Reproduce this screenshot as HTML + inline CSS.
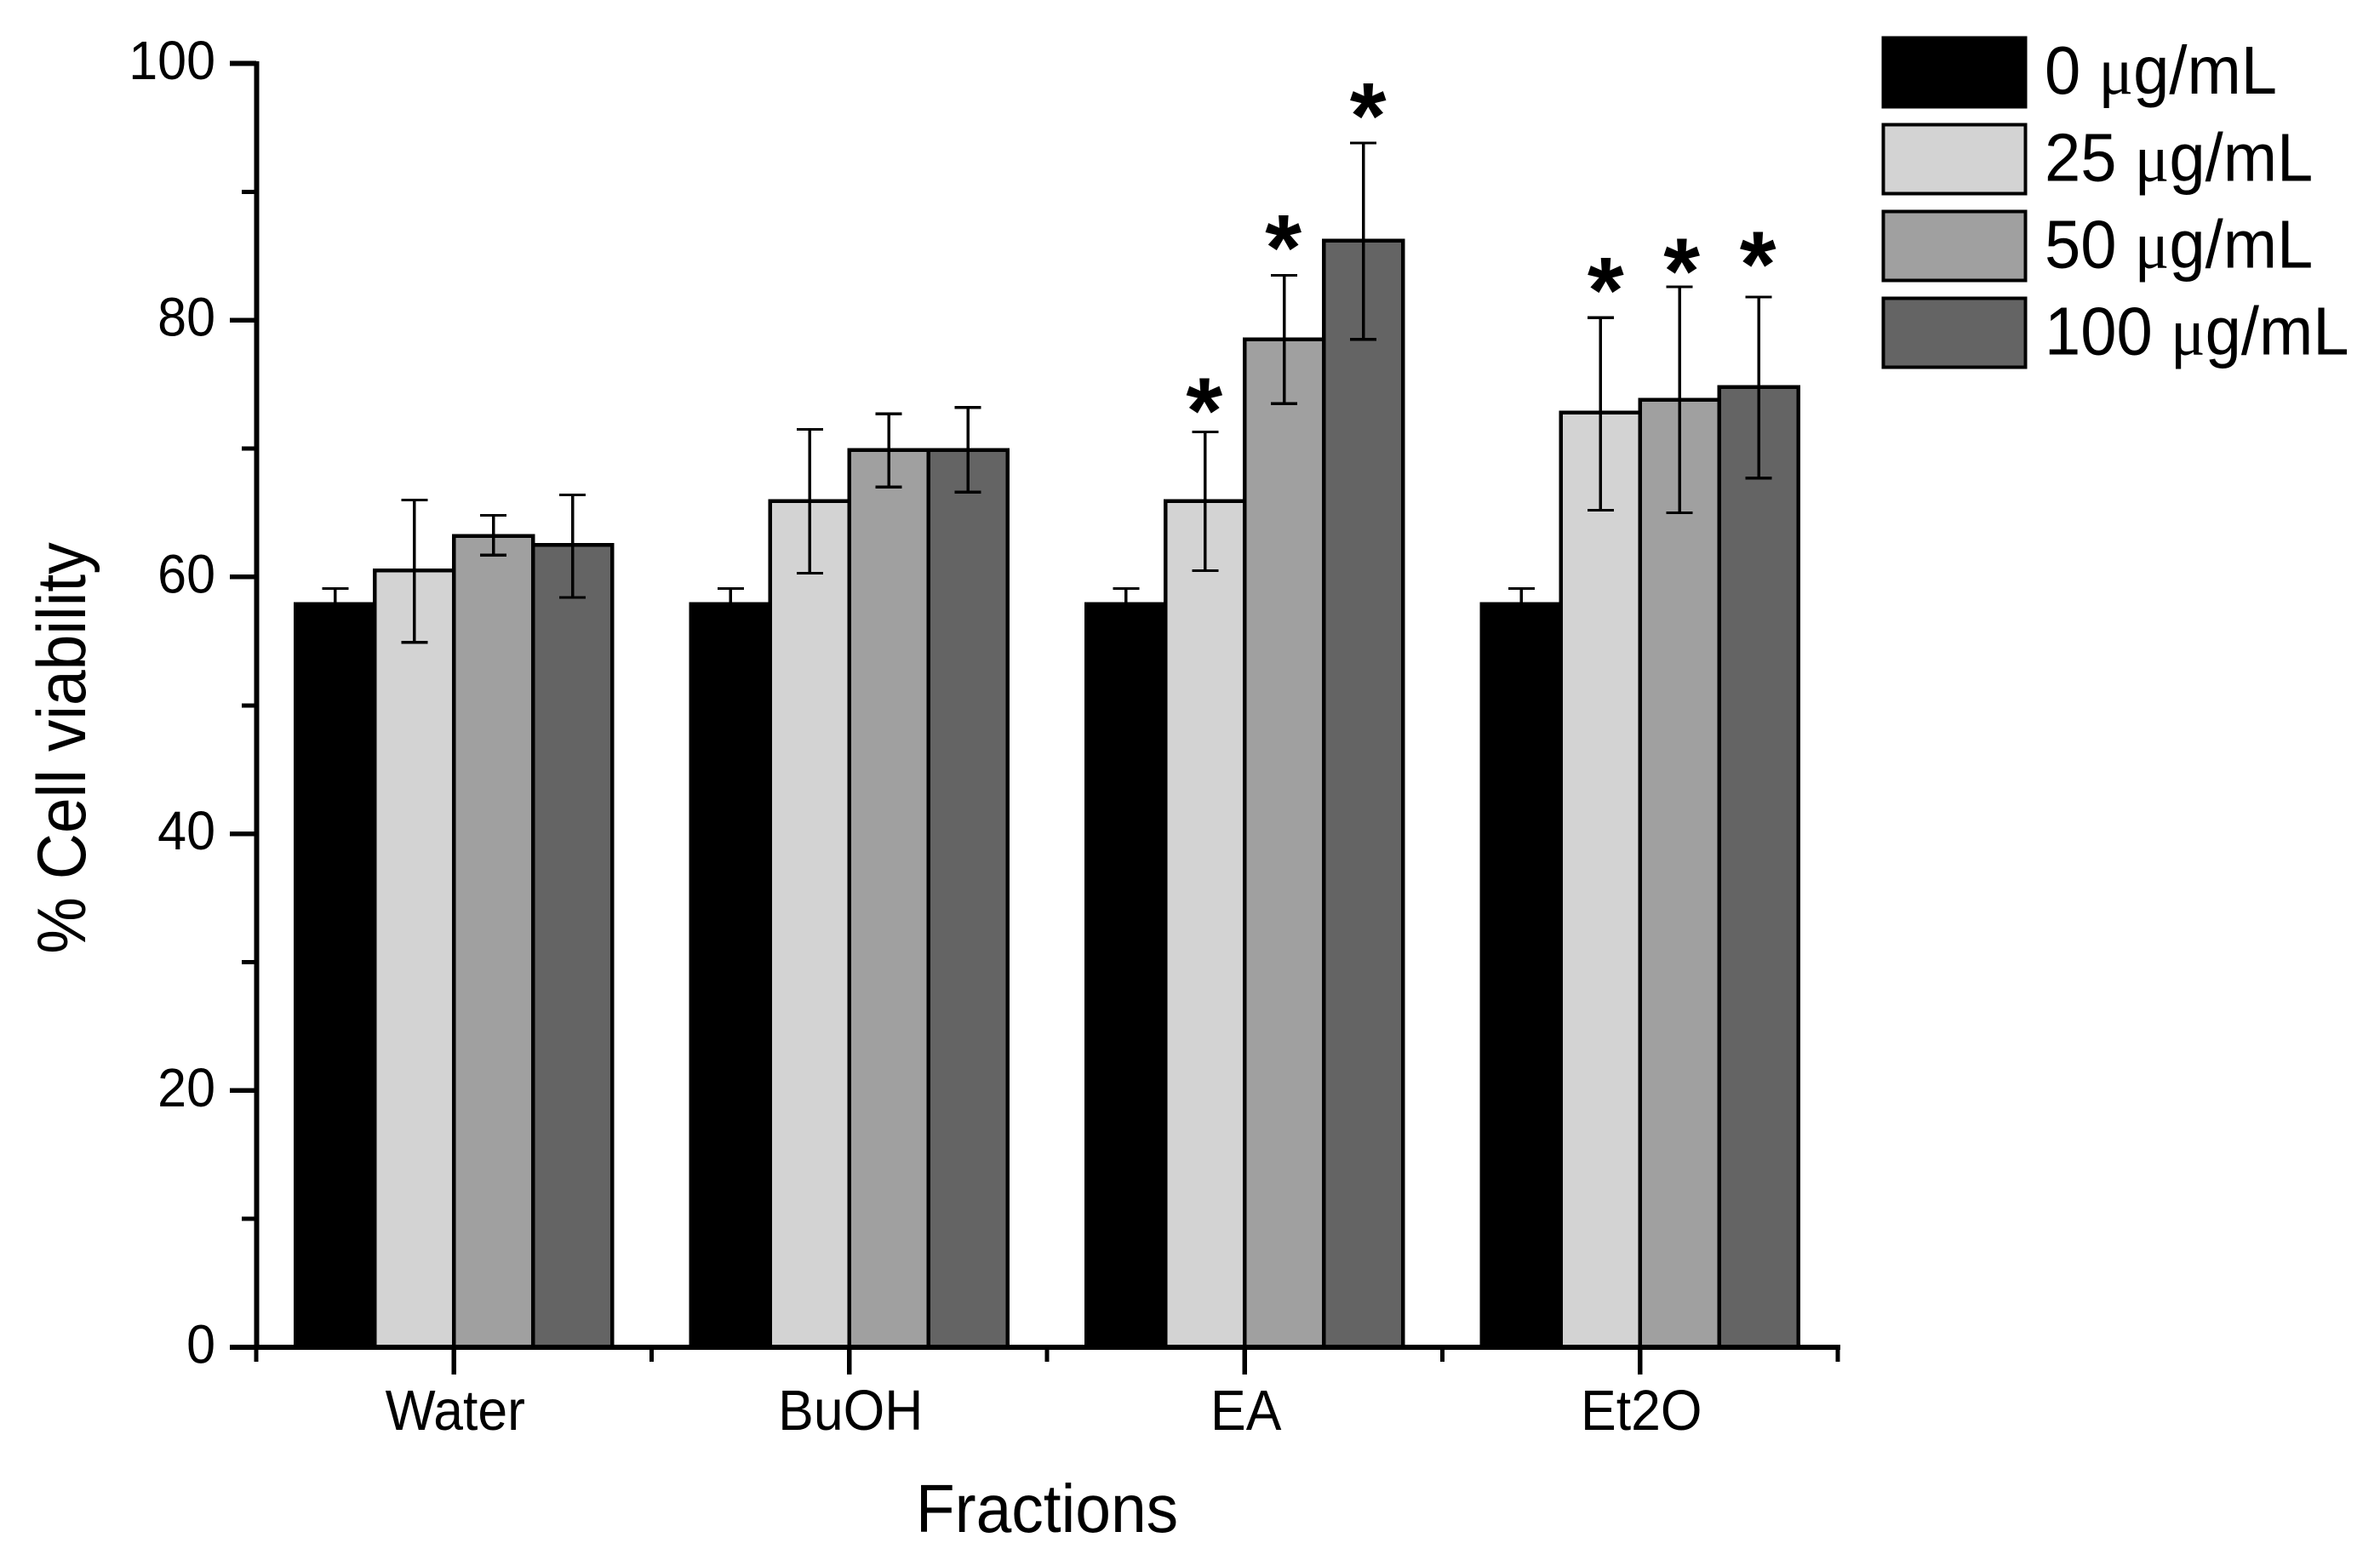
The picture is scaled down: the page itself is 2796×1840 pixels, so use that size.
<!DOCTYPE html>
<html lang="en">
<head>
<meta charset="utf-8">
<title>Cell viability by fraction</title>
<style>
html,body{margin:0;padding:0;background:#fff;}
svg{display:block;}
text{font-family:"Liberation Sans",Arial,sans-serif;fill:#000;}
line,rect{shape-rendering:crispEdges;}
</style>
</head>
<body>
<svg id="chart" xmlns="http://www.w3.org/2000/svg" width="2796" height="1840" viewBox="0 0 2796 1840">
  <rect x="0" y="0" width="2796" height="1840" fill="#fff"/>
  <g id="bars"></g>
  <g id="errors"></g>
  <g id="stars"></g>
  <g id="axes"></g>
  <text transform="translate(100,879) rotate(-90) scale(1,1.08)" text-anchor="middle" font-size="75">% Cell viability</text>
  <text transform="translate(1230,1800) scale(1,1.06)" text-anchor="middle" font-size="75">Fractions</text>
  <g id="legend"></g>
</svg>
<script>
const categories = ['Water', 'BuOH', 'EA', 'Et2O'];
const seriesLabels = ['0', '25', '50', '100'];
const seriesUnit = 'μg/mL';
const seriesColors = ['#000000', '#d3d3d3', '#a0a0a0', '#646464'];
const values0 = [57.9, 57.9, 57.9, 57.9];
const values25 = [60.5, 65.9, 65.9, 72.8];
const values50 = [63.2, 69.9, 78.5, 73.8];
const values100 = [62.5, 69.9, 86.2, 74.8];
const errHigh0 = [59.1, 59.1, 59.1, 59.1];
const errHigh25 = [66.0, 71.5, 71.3, 80.2];
const errHigh50 = [64.8, 72.7, 83.5, 82.6];
const errHigh100 = [66.4, 73.2, 93.8, 81.8];
const errLow0 = [56.7, 56.7, 56.7, 56.7];
const errLow25 = [54.9, 60.3, 60.5, 65.2];
const errLow50 = [61.7, 67.0, 73.5, 65.0];
const errLow100 = [58.4, 66.6, 78.5, 67.7];
const yTickLabels = [0, 20, 40, 60, 80, 100];
const yMinorTicks = [10, 30, 50, 70, 90];
// significance markers: category index, series index, and marker level on the y scale
const starCategory = [2, 2, 2, 3, 3, 3];
const starSeries = [1, 2, 3, 1, 2, 3];
const starLevel = [74.0, 86.7, 97.0, 83.4, 84.9, 85.4];

const allValues = [values0, values25, values50, values100];
const allHigh = [errHigh0, errHigh25, errHigh50, errHigh100];
const allLow = [errLow0, errLow25, errLow50, errLow100];

const NS = 'http://www.w3.org/2000/svg';
const Y0 = 1583, PX_PER_UNIT = 15.085;
const X0 = 301, GROUP_STEP = 464.5, BAR_W = 92.9;
function yScale(v) { return Y0 - v * PX_PER_UNIT; }
function groupCenter(i) { return X0 + GROUP_STEP * (i + 0.5); }
function barLeft(i, s) { return groupCenter(i) + (s - 2) * BAR_W; }
function barCenter(i, s) { return barLeft(i, s) + BAR_W / 2; }
function make(tag, attrs, parent) {
  const el = document.createElementNS(NS, tag);
  for (const k in attrs) el.setAttribute(k, attrs[k]);
  parent.appendChild(el);
  return el;
}
function seg(x1, y1, x2, y2, w, parent) {
  return make('line', { x1: x1, y1: y1, x2: x2, y2: y2, stroke: '#000', 'stroke-width': w }, parent);
}

const barsG = document.getElementById('bars');
const errorsG = document.getElementById('errors');
const starsG = document.getElementById('stars');
const axesG = document.getElementById('axes');
const legendG = document.getElementById('legend');

categories.forEach(function (cat, i) {
  allValues.forEach(function (vals, s) {
    const top = yScale(vals[i]);
    const bar = make('rect', { x: barLeft(i, s), y: top, width: BAR_W, height: Y0 - top, fill: seriesColors[s], stroke: '#000', 'stroke-width': 4.6 }, barsG);
    
    

    const cx = barCenter(i, s), hi = yScale(allHigh[s][i]), lo = yScale(allLow[s][i]);
    const stem = seg(cx, hi, cx, lo, 3.4, errorsG);
    
    
    const capTop = seg(cx - 15.5, hi, cx + 15.5, hi, 3.2, errorsG);
    
    
    const capBottom = seg(cx - 15.5, lo, cx + 15.5, lo, 3.2, errorsG);
    
    
  });
});

const starNudge = [-1, -1, 5.5, 6, 2.5, -1];
starLevel.forEach(function (lvl, k) {
  const sx = barCenter(starCategory[k], starSeries[k]) + starNudge[k];
  const star = make('text', { x: sx, y: yScale(lvl) + 54, 'text-anchor': 'middle', 'font-size': 110, 'font-weight': 'bold' }, starsG);
  star.textContent = '*';
  
  
});

// axis lines
const yAxisLine = seg(301.4, yScale(100) - 2.5, 301.4, Y0 + 3.2, 6, axesG);


const xAxisLine = seg(270, Y0, X0 + GROUP_STEP * 4 + 3, Y0, 6.4, axesG);



yTickLabels.forEach(function (v) {
  const tick = seg(270, yScale(v), 301, yScale(v), 5.6, axesG);
  
  
  const label = make('text', { transform: 'translate(253,' + (yScale(v) + 18.5) + ') scale(1,1.05)', 'text-anchor': 'end', 'font-size': 61 }, axesG);
  label.textContent = String(v);
  
  
});
yMinorTicks.forEach(function (v) {
  const tick = seg(284, yScale(v), 301, yScale(v), 5, axesG);
  
  
});

categories.forEach(function (cat, i) {
  const cx = groupCenter(i);
  const tick = seg(cx, Y0, cx, 1615, 5.4, axesG);
  
  
  const label = make('text', { transform: 'translate(' + (cx + 1.5) + ',1680) scale(1,1.07)', 'text-anchor': 'middle', 'font-size': 62.5 }, axesG);
  label.textContent = cat;
  
  
});
for (let i = 0; i <= categories.length; i++) {
  const mx = X0 + GROUP_STEP * i;
  const minor = seg(mx, Y0, mx, 1600, 5, axesG);
  
  
}

// legend
seriesLabels.forEach(function (lab, s) {
  const top = 44.3 + 102 * s;
  const swatch = make('rect', { x: 2212.6, y: top, width: 167, height: 81.4, fill: seriesColors[s], stroke: '#000', 'stroke-width': 4 }, legendG);
  
  
  const txt = make('text', { transform: 'translate(2402,' + (110 + 102 * s + (s ? 0.7 : 0)) + ') scale(1,1.05)', 'font-size': 76 }, legendG);
  
  
  txt.appendChild(document.createTextNode(lab + ' '));
  const mu = make('tspan', { style: 'font-family:"Liberation Serif",serif' }, txt);
  mu.textContent = seriesUnit.charAt(0);
  
  
  txt.appendChild(document.createTextNode(seriesUnit.slice(1)));
});
</script>
</body>
</html>
